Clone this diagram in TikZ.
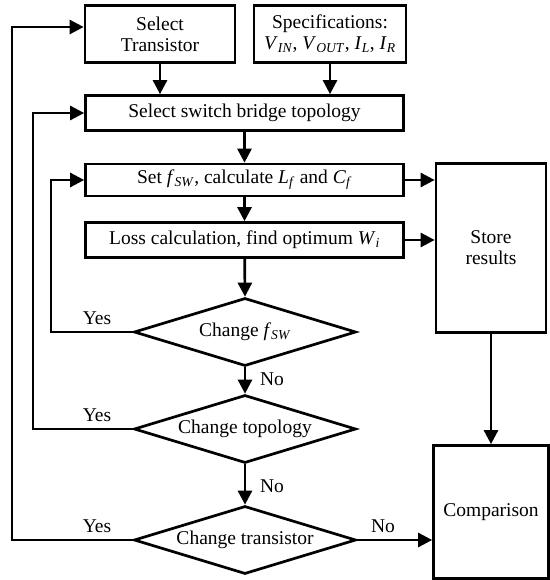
\documentclass[tikz,border=0pt]{standalone}
\usepackage{fontspec}
\setmainfont{Liberation Serif}
\usepackage{tikz}
\usetikzlibrary{arrows.meta,shapes,shapes.geometric}
\usetikzlibrary{positioning}

\newcommand{\isub}[2]{\textit{#1}\textsubscript{\textit{#2}}}

\begin{document}
\begin{tikzpicture}[x=1pt,y=-1pt,line width=2.7pt,
    font=\fontsize{19.5}{21}\selectfont]
    \tikzstyle{box}=[draw, rectangle, inner sep=1pt, align=center];
    \tikzstyle{choice}=[draw, diamond, aspect=3.26, inner sep=0pt, minimum width=222pt, minimum height=68pt];
    \tikzstyle{arr}=[-{Triangle[length=14pt,width=14pt]}];
    \tikzstyle{lbl}=[inner sep=1pt];
    \useasboundingbox (0,0) rectangle (549,580);
    \node[box, minimum width=150pt, minimum height=57pt] (trans) at (160, 34) {Select\\Transistor};
    \node[box, minimum width=152pt, minimum height=57pt] (spec) at (330, 34) {
    Specifications:\\
    \isub{V}{IN}, \isub{V}{OUT}, \isub{I}{L}, \isub{I}{R}
    };
    \node[box, minimum width=318pt, minimum height=35pt] (bridge) at (244.5, 113) {Select switch bridge topology};
    \node[box, minimum width=318pt, minimum height=32pt] (setf) at (244.5, 180) {Set \isub{f}{SW}, calculate \isub{L}{f} and \isub{C}{f}};
    \node[box, minimum width=318pt, minimum height=35pt] (loss) at (244.5, 240) {Loss calculation, find optimum \isub{W}{i}};
    \node[box, minimum width=110pt, minimum height=169pt] (store) at (491, 248) {Store\\results};
    \node[choice] (cfsw) at (245, 332) {Change \isub{f}{SW}};
    \node[choice] (ctopo) at (245, 429) {Change topology};
    \node[choice] (ctrans) at (245, 540) {Change transistor};
    \node[box, minimum width=115pt, minimum height=133pt] (comp) at (491, 512) {Comparison};
    \coordinate (l1) at (51, 332);
    \coordinate (l2) at (33, 429);
    \coordinate (l3) at (12, 540);
    % labels
    \node[lbl] (yes1) at (97, 318) {Yes};
    \node[lbl] (yes2) at (97, 415) {Yes};
    \node[lbl] (yes3) at (97, 526) {Yes};
    \node[lbl] (no1) at (272, 379) {No};
    \node[lbl] (no2) at (272, 486) {No};
    \node[lbl] (no3) at (383, 526) {No};
    % main chain
    \path[draw] [arr] (trans) -- (trans |- bridge.north);
    \path[draw] [arr] (spec) -- (spec |- bridge.north);
    \path[draw] [arr] (bridge) -- (setf);
    \path[draw] [arr] (setf) -- (loss);
    \path[draw] [arr] (loss) -- (cfsw.north);
    \path[draw] [arr] (cfsw.south) -- (ctopo.north);
    \path[draw] [arr] (ctopo.south) -- (ctrans.north);
    % results
    \path[draw] [arr] (setf.east) -- (setf.east -| store.west);
    \path[draw] [arr] (loss.east) -- (loss.east -| store.west);
    \path[draw] [arr] (store) -- (comp);
    \path[draw] [arr] (ctrans.east) -- (ctrans.east -| comp.west);
    % loops back
    \path[draw] [arr] (cfsw.west) -- (l1) |- (setf.west);
    \path[draw] [arr] (ctopo.west) -- (l2) |- (bridge.west);
    \path[draw] [arr] (ctrans.west) -- (l3) |- ([yshift=7pt]trans.west);
\end{tikzpicture}
\end{document}
